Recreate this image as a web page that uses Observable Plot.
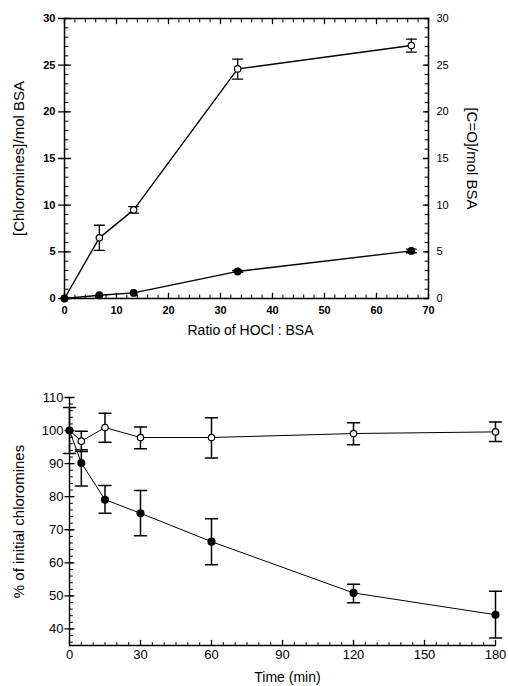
<!DOCTYPE html>
<html><head><meta charset="utf-8">
<script src="https://cdn.jsdelivr.net/npm/d3@7"></script>
<script src="https://cdn.jsdelivr.net/npm/@observablehq/plot@0.6"></script>
<style>body{margin:0;background:#fff;} svg{display:block}</style>
</head><body><div id="c"></div>
<script>
// ---- Top panel data ----
const ratio = [0, 6.7, 13.3, 33.3, 66.7];
const chloramines = [0, 6.5, 9.5, 24.6, 27.1];
const chloraminesLow = [null, 5.15, 9.15, 23.5, 26.4];
const chloraminesHigh = [null, 7.85, 9.85, 25.65, 27.8];
const carbonyl = [0, 0.35, 0.6, 2.9, 5.1];
const carbonylLow = [null, null, null, 2.8, 4.9];
const carbonylHigh = [null, null, null, 3.0, 5.3];
const topXTicks = [0, 10, 20, 30, 40, 50, 60, 70];
const topYTicks = [0, 5, 10, 15, 20, 25, 30];

// ---- Bottom panel data ----
const time = [0, 5, 15, 30, 60, 120, 180];
const control = [100, 96.8, 100.9, 97.9, 97.9, 99.1, 99.6];
const controlLow = [93.1, 93.7, 96.5, 94.5, 91.7, 95.7, 96.7];
const controlHigh = [107.0, 99.8, 105.2, 101.1, 103.9, 102.4, 102.6];
const treated = [100, 90.2, 79.1, 75.0, 66.4, 50.9, 44.3];
const treatedLow = [null, 83.2, 75.0, 68.2, 59.4, 47.9, 37.3];
const treatedHigh = [null, 94.2, 83.4, 81.9, 73.3, 53.5, 51.4];
const botXTicks = [0, 30, 60, 90, 120, 150, 180];
const botYTicks = [40, 50, 60, 70, 80, 90, 100, 110];

const font = "'Liberation Sans', Arial, Helvetica, sans-serif";
const lineShape = {draw(ctx, l) { ctx.moveTo(0, 0); ctx.lineTo(0, -l); }};
const rot = {bottom: 0, top: 180, left: 90, right: -90};

function rows(xs, ys, lo, hi) {
  return xs.map((x, i) => ({x, y: ys[i], lo: lo[i], hi: hi[i]}));
}
function errMarks(data, cap, sw) {
  const e = data.filter(d => d.lo != null);
  return [
    Plot.ruleX(e, {x: "x", y1: "lo", y2: "hi", stroke: "#000", strokeWidth: sw}),
    Plot.vector(e, {x: "x", y: "lo", length: cap, rotate: 90, anchor: "middle", shape: lineShape, stroke: "#000", strokeWidth: sw}),
    Plot.vector(e, {x: "x", y: "hi", length: cap, rotate: 90, anchor: "middle", shape: lineShape, stroke: "#000", strokeWidth: sw})
  ];
}
// tick marks drawn as short vectors along a frame side
function tickMarks(values, side, len, anchor, sw = 1) {
  const dim = (side === "bottom" || side === "top") ? "x" : "y";
  return Plot.vector(values, {[dim]: d => d, frameAnchor: side, length: len, rotate: rot[side], anchor, shape: lineShape, stroke: "#000", strokeWidth: sw});
}
const lbl = {textAnchor: "middle", lineAnchor: "middle", fill: "#000"};

const chl = rows(ratio, chloramines, chloraminesLow, chloraminesHigh);
const cox = rows(ratio, carbonyl, carbonylLow, carbonylHigh);

const topChart = Plot.plot({
  width: 508, height: 345,
  marginLeft: 64, marginRight: 80, marginTop: 18, marginBottom: 47,
  x: {domain: [0, 70]},
  y: {domain: [0, 30]},
  style: {fontFamily: font, color: "#000", background: "#fff", overflow: "visible"},
  marks: [
    Plot.frame({stroke: "#000", strokeWidth: 1.5}),
    Plot.axisX({anchor: "bottom", ticks: topXTicks, tickSize: 0, tickPadding: 8, label: null, fontSize: 11, fontWeight: "bold"}),
    Plot.axisY({anchor: "left", ticks: topYTicks, tickSize: 0, tickPadding: 9, label: null, fontSize: 11, fontWeight: "bold"}),
    Plot.axisY({anchor: "right", ticks: topYTicks, tickSize: 0, tickPadding: 8, label: null, fontSize: 11}),
    tickMarks(d3.range(0, 71, 2), "bottom", 3.5, "start"),
    tickMarks(d3.range(0, 71, 2), "top", 3.5, "start"),
    tickMarks(d3.range(0, 31, 1), "left", 3.5, "start"),
    tickMarks(d3.range(0, 31, 1), "right", 3.5, "start"),
    tickMarks(topXTicks, "bottom", 5, "start", 1.3),
    tickMarks(topXTicks, "top", 5, "start", 1.3),
    tickMarks(topYTicks, "left", 12, "middle", 1.3),
    tickMarks(topYTicks, "right", 5, "start", 1.3),
    Plot.text(["[Chloromines]/mol BSA"], {...lbl, frameAnchor: "left", dx: -45, rotate: -90, fontSize: 15}),
    Plot.text(["[C=O]/mol BSA"], {...lbl, frameAnchor: "right", dx: 43, rotate: 90, fontSize: 15}),
    Plot.text(["Ratio of HOCl : BSA"], {...lbl, frameAnchor: "bottom", dy: 32, dx: 4, fontSize: 14}),
    Plot.line(chl, {x: "x", y: "y", stroke: "#000", strokeWidth: 1.4}),
    Plot.line(cox, {x: "x", y: "y", stroke: "#000", strokeWidth: 1.4}),
    ...errMarks(chl, 10, 1.3),
    ...errMarks(cox, 10, 1.3),
    Plot.dot(chl, {x: "x", y: "y", r: 3.2, fill: "#fff", stroke: "#000", strokeWidth: 1.2}),
    Plot.dot(cox, {x: "x", y: "y", r: 3.2, fill: "#000", stroke: "#000"})
  ]
});

const ctl = rows(time, control, controlLow, controlHigh);
const trt = rows(time, treated, treatedLow, treatedHigh);

const botChart = Plot.plot({
  width: 508, height: 341,
  marginLeft: 69, marginRight: 13, marginTop: 52, marginBottom: 41,
  x: {domain: [0, 180]},
  y: {domain: [35, 110]},
  style: {fontFamily: font, color: "#000", background: "#fff", overflow: "visible"},
  marks: [
    Plot.ruleX([0], {stroke: "#000", strokeWidth: 1.4}),
    Plot.ruleY([35], {stroke: "#000", strokeWidth: 1.4}),
    Plot.axisX({anchor: "bottom", ticks: botXTicks, tickSize: 0, tickPadding: 4, label: null, fontSize: 13}),
    Plot.axisY({anchor: "left", ticks: botYTicks, tickSize: 0, tickPadding: 6, label: null, fontSize: 13}),
    tickMarks(d3.range(0, 181, 5), "bottom", 3, "start"),
    tickMarks(d3.range(36, 111, 2), "left", 3, "start"),
    tickMarks(botXTicks, "bottom", 5, "start", 1.3),
    tickMarks(botYTicks, "left", 9, "middle", 1.3),
    Plot.text(["% of initial chloromines"], {...lbl, frameAnchor: "left", dx: -50, rotate: -90, fontSize: 15}),
    Plot.text(["Time (min)"], {...lbl, frameAnchor: "bottom", dy: 32, dx: 5, fontSize: 14}),
    Plot.line(ctl, {x: "x", y: "y", stroke: "#000", strokeWidth: 1}),
    Plot.line(trt, {x: "x", y: "y", stroke: "#000", strokeWidth: 1}),
    ...errMarks(ctl, 12, 1.5),
    ...errMarks(trt, 12, 1.5),
    Plot.dot(ctl, {x: "x", y: "y", r: 3.2, fill: "#fff", stroke: "#000", strokeWidth: 1.2}),
    Plot.dot(trt, {x: "x", y: "y", r: 3.3, fill: "#000", stroke: "#000"})
  ]
});

const c = document.getElementById("c");
c.appendChild(topChart);
c.appendChild(botChart);
</script>
</body></html>
